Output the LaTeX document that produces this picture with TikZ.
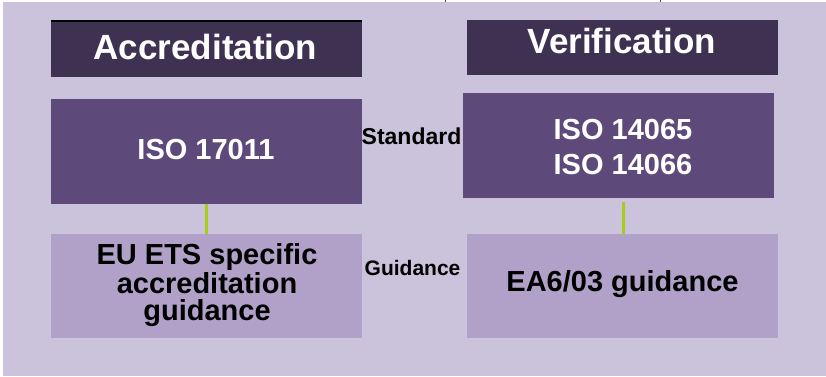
\documentclass[tikz,border=0pt]{standalone}
\usepackage{fontspec}
\setmainfont{Liberation Sans}
\definecolor{bgcol}{RGB}{203,195,219}
\definecolor{headcol}{RGB}{63,49,82}
\definecolor{midcol}{RGB}{94,74,122}
\definecolor{lightcol}{RGB}{177,161,200}
\definecolor{linkcol}{RGB}{166,206,20}
\definecolor{tickcol}{RGB}{70,70,70}
\begin{document}
\begin{tikzpicture}[x=1pt,y=1pt,
  boxbase/.style={rectangle,draw=none,inner sep=0pt,outer sep=0pt,minimum width=311pt},
  headbox/.style={boxbase,fill=headcol,minimum height=55pt},
  midbox/.style={boxbase,fill=midcol,minimum height=105pt},
  lightbox/.style={boxbase,fill=lightcol,minimum height=104pt},
  headtext/.style={anchor=base,inner sep=0pt,text=white,font=\fontsize{35}{36}\selectfont\bfseries},
  midtext/.style={anchor=base,inner sep=0pt,text=white,font=\fontsize{29}{30}\selectfont\bfseries},
  lighttext/.style={anchor=base,inner sep=0pt,text=black,font=\fontsize{29}{30}\selectfont\bfseries},
  sidetext/.style={anchor=base,inner sep=0pt,text=black,font=\fontsize{23}{24}\selectfont\bfseries},
  link/.style={draw=linkcol,line width=3pt}]
\useasboundingbox (0,0) rectangle (826,376);
\fill[bgcol] (3,0) rectangle (826,374);
\fill[tickcol] (444.5,374) rectangle (445.5,376);
\fill[tickcol] (659.5,374) rectangle (660.5,376);
% boxes
\node[headbox] (acc) at (206.5,326.5) {};
\fill[black] (acc.north west) rectangle ([yshift=2pt]acc.north east);
\node[headbox] (ver) at (622.5,328.5) {};
\node[midbox] (isoa) at (206.5,224.5) {};
\node[midbox] (isob) at (618.5,230.5) {};
\node[lightbox] (eu) at (206.5,90) {};
\node[lightbox] (ea) at (622.5,90) {};
% connectors
\coordinate (vtop) at (623,174);
\draw[link] (isoa.south) -- (eu.north);
\draw[link] ([xshift=0.5pt]ea.north) -- (vtop);
% texts
\node[headtext] (acct) at (205.5,317) {Accreditation};
\node[headtext] (vert) at (622,322.7) {Verification};
\node[midtext] (isoat) at (206,217) {ISO 17011};
\node[midtext] (isobt1) at (623,237) {ISO 14065};
\node[midtext] (isobt2) at (623,201.7) {ISO 14066};
\node[sidetext] (std) at (411.5,231.7) {Standard};
\node[sidetext,font=\fontsize{21}{22}\selectfont\bfseries] (gui) at (412.5,100.3) {Guidance};
\node[lighttext] (eut1) at (207,111.7) {EU ETS specific};
\node[lighttext] (eut2) at (207,82.7) {accreditation};
\node[lighttext] (eut3) at (207,56) {guidance};
\node[lighttext] (eat) at (622.5,84.3) {EA6/03 guidance};
\end{tikzpicture}
\end{document}
